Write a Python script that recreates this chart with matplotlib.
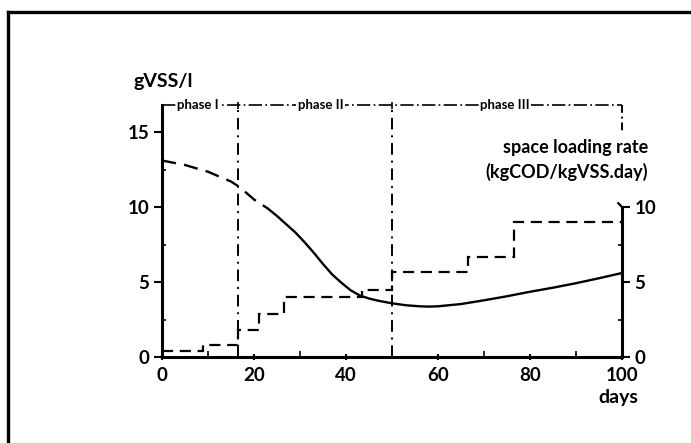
import matplotlib
matplotlib.use("Agg")
import matplotlib.pyplot as plt
from matplotlib.lines import Line2D

plt.rcParams['font.family'] = ['Lato', 'DejaVu Sans']

# Biomass concentration (gVSS/l)
days_curve = [0, 5, 10, 15, 17, 20, 22, 23, 25, 27, 29, 31, 33, 35, 37, 39, 41, 43, 45,
              47, 50, 53, 56, 58, 60, 65, 70, 75, 80, 85, 90, 95, 100]
vss = [13.1, 12.8, 12.35, 11.7, 11.3, 10.5, 10.1, 9.9, 9.4, 8.85, 8.3, 7.65, 6.95, 6.2,
       5.5, 4.95, 4.45, 4.1, 3.9, 3.75, 3.58, 3.45, 3.38, 3.36, 3.38, 3.53, 3.78, 4.05,
       4.35, 4.62, 4.92, 5.25, 5.6]
dash_until = 23

# Space loading rate (kgCOD/kgVSS.day) step function
step_edges = [0, 9, 16.5, 21, 26.5, 43.5, 50, 66.5, 76.5, 100]
step_values = [0.4, 0.8, 1.8, 2.85, 4.0, 4.5, 5.7, 6.65, 9.0]

# Phase boundaries
phase_bounds = [16.5, 50]
phase_labels = ["phase I", "phase II", "phase III"]
phase_label_x = [7.8, 34.5, 74.6]

fig = plt.figure(figsize=(6.91, 4.43), dpi=100)
ax = fig.add_axes([162/691, 86/443, 460/691, 255/443])
ax2 = ax.twinx()

ymax = 17
ax.set_xlim(0, 100)
ax.set_ylim(0, ymax)
ax2.set_ylim(0, ymax)

lw_sp = 2.2
for a in (ax, ax2):
    a.patch.set_visible(False)
    a.spines['top'].set_visible(False)
ax.spines['right'].set_visible(False)
ax2.spines['left'].set_visible(False)
ax2.spines['bottom'].set_visible(False)
ax.spines['left'].set_linewidth(lw_sp)
ax.spines['bottom'].set_linewidth(lw_sp)
ax2.spines['right'].set_linewidth(lw_sp)
ax.spines['left'].set_bounds(0, 16.8)
ax2.spines['right'].set_bounds(0, 10)

ax.set_xticks([0, 20, 40, 60, 80, 100])
ax.set_xticks([10, 30, 50, 70, 90], minor=True)
ax.set_yticks([0, 5, 10, 15])
ax2.set_yticks([0, 5, 10])
ax2.set_yticks([2.5, 7.5], minor=True)
ax.set_yticks([2.5, 7.5, 12.5], minor=True)

tick_font = 13.5
ax.tick_params(axis='x', which='major', length=5, width=1.5, direction='inout', labelsize=tick_font, pad=5)
ax.tick_params(axis='x', which='minor', length=4, width=1.2, direction='in')
ax.tick_params(axis='y', which='major', length=6, width=1.5, direction='out', labelsize=tick_font, pad=3)
ax.tick_params(axis='y', which='minor', length=3, width=1.2, direction='in')
ax2.tick_params(axis='y', which='major', length=6, width=1.5, direction='out', labelsize=tick_font, pad=3)
ax2.tick_params(axis='y', which='minor', length=3, width=1.2, direction='in')
for lab in ax.get_xticklabels() + ax.get_yticklabels() + ax2.get_yticklabels():
    lab.set_fontweight('bold')

# biomass curve: dashed (extrapolated) then solid
xd = [x for x in days_curve if x <= dash_until]
yd = vss[:len(xd)]
xs = days_curve[len(xd) - 1:]
ys = vss[len(xd) - 1:]
ax.plot(xd, yd, color='black', lw=1.7, linestyle=(0, (6, 3.5)))
ax.plot(xs, ys, color='black', lw=1.7, solid_capstyle='round', solid_joinstyle='round')

# loading rate steps
ax2.stairs(step_values, step_edges, color='black', lw=1.6, linestyle=(0, (5, 3)), baseline=None)

# phase dividers
ytop = 16.8
for xb in phase_bounds:
    ax.plot([xb, xb], [0, ytop], color='black', lw=1.4, linestyle=(0, (6, 3, 1, 3)))
    ax.plot([xb], [ytop], marker='|', color='black', ms=6, mew=1.2)
ax.plot([0, 100], [ytop, ytop], color='black', lw=1.2, linestyle=(0, (8, 2, 1, 2)), clip_on=False)
ax.plot([100, 100], [ytop, 15.0], color='black', lw=1.4, linestyle=(0, (4, 2, 1, 2)), clip_on=False)
for lx, lab in zip(phase_label_x, phase_labels):
    ax.text(lx, ytop, lab, ha='center', va='center', fontsize=9.5, fontweight='bold',
            bbox=dict(facecolor='white', edgecolor='none', pad=1.0), clip_on=False)

# spine hooks
ax2.plot([99.2, 100], [10.25, 10.0], color='black', lw=1.6)

# labels
fig.text(133/691, 1 - 81/443, "gVSS/l", fontsize=14, fontweight='bold', ha='left', va='center')
fig.text(648/691, 1 - 147/443, "space loading rate", fontsize=13, fontweight='bold', ha='right', va='center')
fig.text(648/691, 1 - 172/443, "(kgCOD/kgVSS.day)", fontsize=13, fontweight='bold', ha='right', va='center')
fig.text(618/691, 1 - 398/443, "days", fontsize=14, fontweight='bold', ha='center', va='center')

# page frame (top and left edges)
fig.add_artist(Line2D([8/691, 1], [1 - 11.5/443, 1 - 11.5/443], transform=fig.transFigure,
                      color='black', lw=2.4))
fig.add_artist(Line2D([8/691, 8/691], [0, 1 - 11.5/443], transform=fig.transFigure,
                      color='black', lw=2.4))

fig.savefig("out.png", dpi=100)
